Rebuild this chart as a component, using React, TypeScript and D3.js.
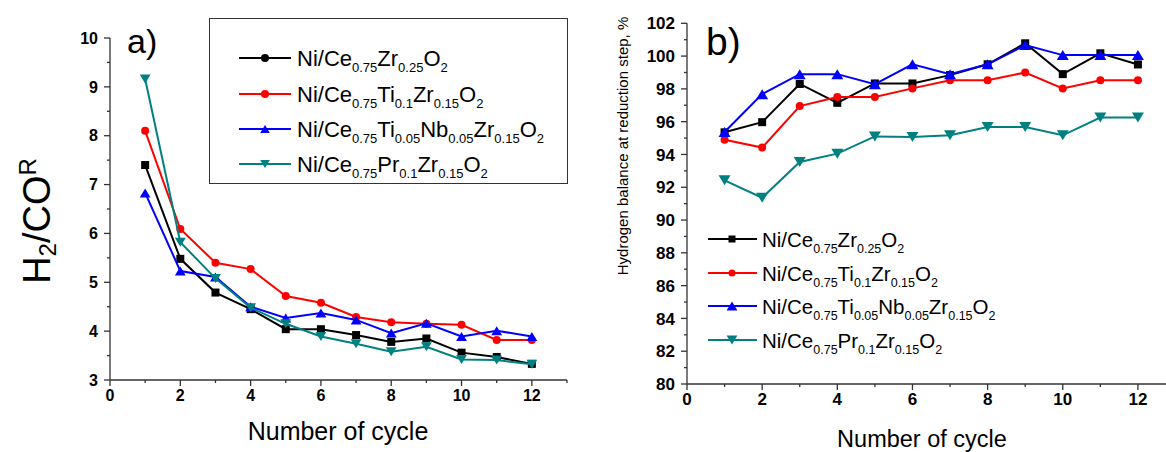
import * as d3 from "d3"

const cycles = [1, 2, 3, 4, 5, 6, 7, 8, 9, 10, 11, 12]

// panel a) H2/CO ratio
const ratioZr = [7.4, 5.48, 4.79, 4.45, 4.04, 4.04, 3.92, 3.78, 3.85, 3.56, 3.47, 3.33]
const ratioTi = [8.1, 6.09, 5.4, 5.27, 4.72, 4.58, 4.29, 4.18, 4.15, 4.13, 3.82, 3.82]
const ratioTiNb = [6.83, 5.23, 5.11, 4.5, 4.27, 4.37, 4.23, 3.96, 4.16, 3.89, 4.01, 3.89]
const ratioPr = [9.16, 5.82, 5.08, 4.48, 4.15, 3.89, 3.74, 3.58, 3.68, 3.42, 3.41, 3.32]

// panel b) hydrogen balance, %
const balZr = [95.35, 95.97, 98.3, 97.15, 98.33, 98.33, 98.84, 99.5, 100.78, 98.9, 100.17, 99.49]
const balTi = [94.9, 94.42, 96.95, 97.5, 97.5, 98.03, 98.53, 98.53, 99.0, 98.03, 98.53, 98.53]
const balTiNb = [95.37, 97.68, 98.9, 98.9, 98.29, 99.5, 98.9, 99.5, 100.67, 100.06, 100.06, 100.06]
const balPr = [92.42, 91.36, 93.54, 94.05, 95.1, 95.07, 95.17, 95.68, 95.68, 95.17, 96.25, 96.25]

// even index = normal text, odd index = subscript
const labels = [
  ["Ni/Ce", "0.75", "Zr", "0.25", "O", "2"],
  ["Ni/Ce", "0.75", "Ti", "0.1", "Zr", "0.15", "O", "2"],
  ["Ni/Ce", "0.75", "Ti", "0.05", "Nb", "0.05", "Zr", "0.15", "O", "2"],
  ["Ni/Ce", "0.75", "Pr", "0.1", "Zr", "0.15", "O", "2"],
]

const xMajor = [0, 2, 4, 6, 8, 10, 12]
const xMinor = [1, 3, 5, 7, 9, 11, 13]
const ratioMajor = [3, 4, 5, 6, 7, 8, 9, 10]
const ratioMinor = [3.5, 4.5, 5.5, 6.5, 7.5, 8.5, 9.5]
const balMajor = [80, 82, 84, 86, 88, 90, 92, 94, 96, 98, 100, 102]
const balMinor = [81, 83, 85, 87, 89, 91, 93, 95, 97, 99, 101]

const colors = ["#000000", "#ff0000", "#0000ff", "#008080"]
const FONT = "Arial, 'Liberation Sans', sans-serif"

type Shape = "square" | "circle" | "up" | "down"

const Marker = ({ shape, x, y, color, s }: { shape: Shape; x: number; y: number; color: string; s: number }) => {
  if (shape === "square") return <rect x={x - s / 2} y={y - s / 2} width={s} height={s} fill={color} />
  if (shape === "circle") return <circle cx={x} cy={y} r={s / 2} fill={color} />
  const w = s * 1.2
  const h = s
  const d =
    shape === "up"
      ? `M${x},${y - h / 2}L${x + w / 2},${y + h / 2}L${x - w / 2},${y + h / 2}Z`
      : `M${x},${y + h / 2}L${x + w / 2},${y - h / 2}L${x - w / 2},${y - h / 2}Z`
  return <path d={d} fill={color} />
}

const Formula = ({ parts, x, y, size, sub, shift }: { parts: string[]; x: number; y: number; size: number; sub: number; shift: number }) => (
  <text x={x} y={y} fontFamily={FONT} fontSize={size} fill="#000">
    {parts.map((p, i) => (
      <tspan key={i} fontSize={i % 2 ? sub : size} dy={i === 0 ? 0 : i % 2 ? shift : -shift}>
        {p}
      </tspan>
    ))}
  </text>
)

const Panel = ({ x, y, yMajor, yMinor, series, shapes, ms, tickSize }: any) => {
  const [x0, x1] = x.range()
  const [y0] = y.range()
  const line = d3
    .line<number>()
    .x((_, i) => x(cycles[i]))
    .y((d) => y(d))
  return (
    <g>
      {series.map((s: number[], k: number) => (
        <g key={k}>
          <path d={line(s) ?? ""} fill="none" stroke={colors[k]} strokeWidth={2} />
          {s.map((v, i) => (
            <Marker key={i} shape={shapes[k]} x={x(cycles[i])} y={y(v)} color={colors[k]} s={ms[k]} />
          ))}
        </g>
      ))}
      <line x1={x0} x2={x0} y1={y0} y2={y.range()[1]} stroke="#333" strokeWidth={1.3} />
      <line x1={x0} x2={x1} y1={y0} y2={y0} stroke="#333" strokeWidth={1.3} />
      {yMajor.map((t: number) => (
        <g key={t}>
          <line x1={x0 - 6} x2={x0} y1={y(t)} y2={y(t)} stroke="#333" strokeWidth={1.3} />
          <text x={x0 - 12} y={y(t)} dy="0.36em" textAnchor="end" fontFamily={FONT} fontWeight="bold" fontSize={tickSize}>
            {t}
          </text>
        </g>
      ))}
      {yMinor.map((t: number) => (
        <line key={t} x1={x0 - 3} x2={x0} y1={y(t)} y2={y(t)} stroke="#333" strokeWidth={1.3} />
      ))}
      {xMajor.map((t) => (
        <g key={t}>
          <line x1={x(t)} x2={x(t)} y1={y0} y2={y0 + 6} stroke="#333" strokeWidth={1.3} />
          <text x={x(t)} y={y0 + 9} dy="0.72em" textAnchor="middle" fontFamily={FONT} fontWeight="bold" fontSize={tickSize}>
            {t}
          </text>
        </g>
      ))}
      {xMinor.map((t) => (
        <line key={t} x1={x(t)} x2={x(t)} y1={y0} y2={y0 + 3} stroke="#333" strokeWidth={1.3} />
      ))}
    </g>
  )
}

const App = () => {
  const xa = d3.scaleLinear().domain([0, 13]).range([110, 567])
  const ya = d3.scaleLinear().domain([3, 10]).range([380, 38])
  const xb = d3.scaleLinear().domain([0, 13]).range([687, 1175.5])
  const yb = d3.scaleLinear().domain([80, 102]).range([384, 23.3])

  const legendA = [58, 94, 129, 164]
  const legendB = [239, 273, 306, 340]
  const shapesA: Shape[] = ["circle", "circle", "up", "down"]
  const shapes: Shape[] = ["square", "circle", "up", "down"]

  return (
    <svg width={1166} height={452} style={{ position: "absolute", left: 0, top: 0, background: "#fff" }}>
      <Panel x={xa} y={ya} yMajor={ratioMajor} yMinor={ratioMinor} series={[ratioZr, ratioTi, ratioTiNb, ratioPr]} shapes={shapes} ms={[8, 8, 9, 9]} tickSize={16} />
      <Panel x={xb} y={yb} yMajor={balMajor} yMinor={balMinor} series={[balZr, balTi, balTiNb, balPr]} shapes={shapes} ms={[8, 8, 10, 10]} tickSize={17} />

      <text x={127} y={53} fontFamily={FONT} fontSize={34}>a)</text>
      <text x={706} y={55} fontFamily={FONT} fontSize={39}>b)</text>

      <text transform="translate(50,221) rotate(-90)" textAnchor="middle" fontFamily={FONT} fontSize={38}>
        H<tspan fontSize={24} dy={6}>2</tspan>
        <tspan dy={-6}>/CO</tspan>
        <tspan fontSize={24} dy={-14}>R</tspan>
      </text>
      <text transform="translate(628,146) rotate(-90)" textAnchor="middle" fontFamily={FONT} fontSize={15}>
        Hydrogen balance at reduction step, %
      </text>
      <text x={338} y={440} textAnchor="middle" fontFamily={FONT} fontSize={25}>Number of cycle</text>
      <text x={922} y={447} textAnchor="middle" fontFamily={FONT} fontSize={23.5}>Number of cycle</text>

      <rect x={209.5} y={18.5} width={358} height={165} fill="none" stroke="#333" strokeWidth={1} />
      {labels.map((l, k) => (
        <g key={k}>
          <line x1={239} x2={291} y1={legendA[k]} y2={legendA[k]} stroke={colors[k]} strokeWidth={2} />
          <Marker shape={shapesA[k]} x={265} y={legendA[k]} color={colors[k]} s={8} />
          <Formula parts={l} x={297} y={legendA[k] + 8} size={22} sub={13} shift={6} />
        </g>
      ))}
      {labels.map((l, k) => (
        <g key={k}>
          <line x1={708} x2={757} y1={legendB[k]} y2={legendB[k]} stroke={colors[k]} strokeWidth={2} />
          <Marker shape={shapes[k]} x={732} y={legendB[k]} color={colors[k]} s={k > 1 ? 9 : 7} />
          <Formula parts={l} x={762} y={legendB[k] + 7.5} size={20.5} sub={12.5} shift={6} />
        </g>
      ))}
    </svg>
  )
}

export default App
